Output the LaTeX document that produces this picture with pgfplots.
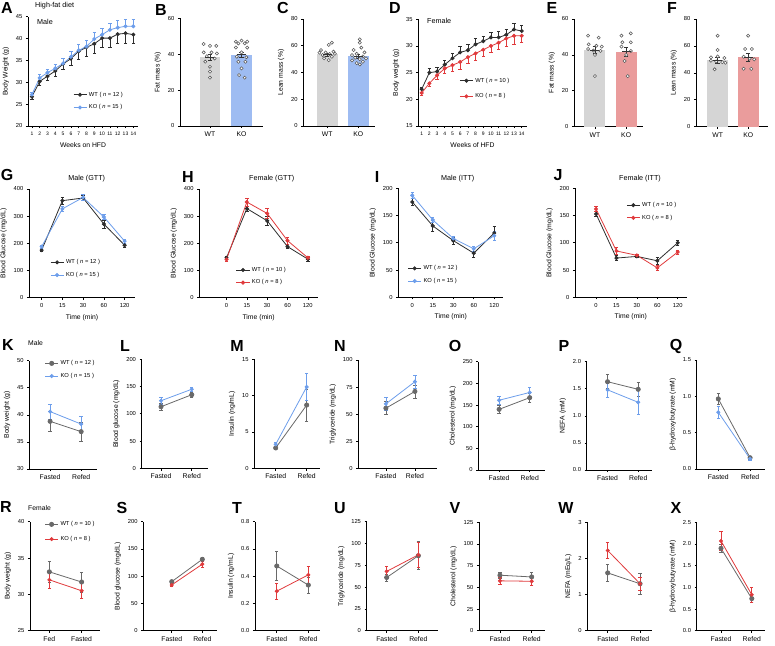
\documentclass[border=0pt]{standalone}
\usepackage{pgfplots}
\pgfplotsset{compat=1.18}
\usepackage{fontspec}
\setmainfont{Liberation Sans}
\definecolor{wtk}{RGB}{45,45,45}
\definecolor{wtg}{RGB}{105,105,105}
\definecolor{kob}{RGB}{109,158,235}
\definecolor{kor}{RGB}{224,58,60}
\definecolor{barg}{RGB}{213,213,213}
\definecolor{barb}{RGB}{158,188,242}
\definecolor{barr}{RGB}{234,156,156}
\newcommand{\fs}[1]{\fontsize{#1}{#1}\selectfont}
\newcommand{\plab}[3]{\node[font=\bfseries\fs{16}, inner sep=0pt] at (#1,{645-#2}) {#3};}
\newcommand{\ttl}[4]{\node[font=\fs{#4}, inner sep=0pt, anchor=west] at (#1,{645-#2}) {#3};}
\newcommand{\ttc}[4]{\node[font=\fs{#4}, inner sep=0pt] at (#1,{645-#2}) {#3};}
\pgfplotsset{
  base/.style={
    scale only axis, clip=false,
    axis x line*=bottom, axis y line*=left,
    axis line style={line width=0.75pt,-},
    tick align=outside,
    major tick length=2.2pt,
    every tick/.style={black, line width=0.6pt},
    /pgf/number format/assume math mode=true,
    tick label style={font=\fs{5.8}},
    label style={font=\fs{6.8}},
    legend style={draw=none, fill=none, font=\fs{5.8}, inner sep=0pt, outer sep=0pt, row sep=3pt},
    legend cell align=left,
    legend image code/.code={\draw[mark repeat=2,mark phase=2,#1] plot coordinates {(0pt,0pt) (6.5pt,0pt) (13pt,0pt)};},
    error bars/error bar style={line width=0.6pt, solid},
    error bars/error mark options={rotate=90, mark size=1.7pt, line width=0.6pt, solid},
  },
  barax/.style={base, xtick={0,1}, xticklabels={WT,KO}, xticklabel style={font=\fs{6.8}}},
  fr/.style={base, xtick={0,1}, xticklabels={Fasted,Refed}, xticklabel style={font=\fs{6.8}}},
  tm/.style={base, xtick={0,1,2,3,4}, xticklabels={0,15,30,60,120}, xlabel={Time (min)}, ylabel={Blood Glucose (mg/dL)}},
  wt1/.style={color=wtk, mark=*, mark size=1.6pt, line width=0.8pt, error bars/y dir=both, error bars/y explicit},
  ko1b/.style={color=kob, mark=*, mark size=1.6pt, line width=0.8pt, error bars/y dir=both, error bars/y explicit},
  ko1r/.style={color=kor, mark=*, mark size=1.6pt, line width=0.8pt, error bars/y dir=both, error bars/y explicit},
  wt3/.style={color=wtg, mark=*, mark size=2.1pt, line width=0.8pt, error bars/y dir=both, error bars/y explicit},
  ko3b/.style={color=kob, mark=*, mark size=1.6pt, line width=0.8pt, error bars/y dir=both, error bars/y explicit},
  ko3r/.style={color=kor, mark=*, mark size=1.6pt, line width=0.8pt, error bars/y dir=both, error bars/y explicit},
  pts/.style={only marks, mark=*, mark size=1.6pt, mark options={fill=white, draw=black!65, line width=0.55pt}},
  meanb/.style={color=black!80, only marks, mark=-, mark size=4.5pt, line width=0.7pt, error bars/y dir=both, error bars/y explicit, error bars/error mark options={rotate=90, mark size=2.2pt, line width=0.7pt}},
}
\begin{document}
\begin{tikzpicture}[x=1pt,y=1pt]
\useasboundingbox (0,0) rectangle (775,645);
% ---------------- Row 1 ----------------
\begin{axis}[base, at={(28pt,519pt)}, anchor=south west, width=110pt, height=109.3pt,
  xmin=0.5, xmax=14.6, ymin=20, ymax=45, ytick={20,25,30,35,40,45}, xtick={1,...,14},
  xticklabel style={font=\fs{5}}, xlabel={Weeks on HFD}, ylabel={Body Weight (g)},
  legend style={at={(0.41,0.33)}, anchor=north west}]
\addplot[wt1, error bars/y dir=minus] coordinates {(1,26.7)+-(0,0.6) (2,30.2)+-(0,0.8) (3,31.4)+-(0,1.0) (4,32.6)+-(0,1.2) (5,34.2)+-(0,1.3) (6,35.4)+-(0,1.6) (7,37.1)+-(0,1.8) (8,38.0)+-(0,2.0) (9,38.8)+-(0,2.2) (10,40.1)+-(0,2.0) (11,40.1)+-(0,2.1) (12,41.0)+-(0,2.0) (13,41.2)+-(0,2.2) (14,40.9)+-(0,2.0)};
\addlegendentry{WT ( \textit{n} = 12 )}
\addplot[ko1b, error bars/y dir=plus] coordinates {(1,27.2)+-(0,0.5) (2,31.0)+-(0,0.8) (3,32.2)+-(0,0.8) (4,33.2)+-(0,1.0) (5,34.3)+-(0,1.1) (6,35.8)+-(0,1.2) (7,37.3)+-(0,1.3) (8,38.2)+-(0,1.5) (9,39.9)+-(0,1.5) (10,40.9)+-(0,1.5) (11,42.0)+-(0,1.5) (12,42.5)+-(0,1.6) (13,42.8)+-(0,1.6) (14,42.8)+-(0,1.5)};
\addlegendentry{KO ( \textit{n} = 15 )}
\end{axis}
\begin{axis}[barax, at={(180pt,519pt)}, anchor=south west, width=83pt, height=107.7pt,
  xmin=-0.95, xmax=1.68, ymin=0, ymax=60, ytick={0,20,40,60}, ylabel={Fat mass (\%)}]
\addplot[ybar, bar shift=0pt, bar width=0.66, fill=barg, draw=none] coordinates {(0,38.3)};
\addplot[ybar, bar shift=0pt, bar width=0.66, fill=barb, draw=none] coordinates {(1,39.7)};
\addplot[pts] coordinates {(-0.2,45.7) (0,44.6) (0.2,44.6) (-0.2,41.0) (0.05,41.0) (0.22,40.4) (-0.1,38.9) (0.15,37.6) (-0.15,35.8) (0,33.0) (0,30.3) (0,26.9)};
\addplot[pts] coordinates {(0.82,47) (1,47.6) (1.18,47) (0.9,46) (1.1,46) (0.82,43.7) (1.18,43.7) (1,41) (0.85,38.6) (1.15,38.3) (0.9,35.8) (1.12,35.8) (1,32.1) (0.92,28.4) (1.1,26.9)};
\addplot[meanb] coordinates {(0,38.3)+-(0,1.6) (1,39.7)+-(0,1.6)};
\end{axis}
\begin{axis}[barax, at={(303.3pt,519pt)}, anchor=south west, width=71.7pt, height=107pt,
  xmin=-0.77, xmax=1.54, ymin=0, ymax=80, ytick={0,20,40,60,80}, ylabel={Lean mass (\%)}]
\addplot[ybar, bar shift=0pt, bar width=0.67, fill=barg, draw=none] coordinates {(0,53.5)};
\addplot[ybar, bar shift=0pt, bar width=0.67, fill=barb, draw=none] coordinates {(1,52)};
\addplot[pts] coordinates {(0.15,62.3) (0.05,60.6) (-0.2,56.8) (0.2,55.6) (-0.05,55.0) (-0.25,54.8) (0.25,54.0) (0.08,53.8) (-0.15,53.1) (0.15,51.8) (-0.1,50.6) (0.05,49.3)};
\addplot[pts] coordinates {(1.05,64.8) (1.05,62.3) (1.1,58.6) (0.85,56.8) (1.2,55) (0.95,54) (0.8,53) (1.15,52) (0.9,51) (1.25,50.5) (1.05,50) (0.8,49) (1.15,48) (0.95,47) (1.05,46)};
\addplot[meanb] coordinates {(0,53.5)+-(0,1.1) (1,52)+-(0,1.3)};
\end{axis}
\begin{axis}[base, at={(418.3pt,519pt)}, anchor=south west, width=108.4pt, height=106.7pt,
  xmin=0.56, xmax=14.65, ymin=15, ymax=35, ytick={15,20,25,30,35}, xtick={1,...,14},
  xticklabel style={font=\fs{5}}, xlabel={Weeks of HFD}, ylabel={Body weight (g)},
  legend style={at={(0.38,0.47)}, anchor=north west, row sep=6pt}]
\addplot[wt1, error bars/y dir=plus] coordinates {(1,21.9)+-(0,0.4) (2,25.0)+-(0,0.8) (3,25.2)+-(0,0.8) (4,26.5)+-(0,0.9) (5,27.7)+-(0,1.0) (6,28.8)+-(0,1.1) (7,29.2)+-(0,1.2) (8,30.3)+-(0,1.1) (9,30.9)+-(0,1.0) (10,31.6)+-(0,1.0) (11,31.6)+-(0,1.2) (12,32.1)+-(0,1.1) (13,33.1)+-(0,1.2) (14,32.8)+-(0,1.1)};
\addlegendentry{WT ( \textit{n} = 10 )}
\addplot[ko1r, error bars/y dir=minus] coordinates {(1,21.2)+-(0,0.4) (2,23.0)+-(0,0.6) (3,24.5)+-(0,0.7) (4,25.8)+-(0,1.0) (5,26.4)+-(0,1.2) (6,27.0)+-(0,1.3) (7,27.9)+-(0,1.2) (8,28.6)+-(0,1.2) (9,29.3)+-(0,1.2) (10,30.0)+-(0,1.2) (11,30.6)+-(0,1.3) (12,31.4)+-(0,1.4) (13,31.9)+-(0,1.5) (14,31.9)+-(0,1.3)};
\addlegendentry{KO ( \textit{n} = 8 )}
\end{axis}
\begin{axis}[barax, at={(574pt,518.3pt)}, anchor=south west, width=69pt, height=107.7pt,
  xmin=-0.67, xmax=1.54, ymin=0, ymax=60, ytick={0,20,40,60}, ylabel={Fat mass (\%)}]
\addplot[ybar, bar shift=0pt, bar width=0.67, fill=barg, draw=none] coordinates {(0,42.6)};
\addplot[ybar, bar shift=0pt, bar width=0.67, fill=barr, draw=none] coordinates {(1,41.8)};
\addplot[pts] coordinates {(-0.22,50.7) (0.12,49.6) (-0.2,45.9) (0.05,45.1) (0.22,44.6) (-0.22,43.3) (-0.05,42.4) (0.18,42.2) (0,40.0) (0,28.2)};
\addplot[pts] coordinates {(0.85,50.7) (1.15,52) (0.88,47) (1.15,47) (0.85,44.6) (1.15,42.2) (1,40) (0.95,36.6) (1.05,28.2)};
\addplot[meanb] coordinates {(0,42.6)+-(0,2) (1,41.8)+-(0,2.5)};
\end{axis}
\begin{axis}[barax, at={(696pt,518.3pt)}, anchor=south west, width=72pt, height=107.7pt,
  xmin=-0.71, xmax=1.65, ymin=0, ymax=80, ytick={0,20,40,60,80}, ylabel={Lean mass (\%)}]
\addplot[ybar, bar shift=0pt, bar width=0.69, fill=barg, draw=none] coordinates {(0,49.5)};
\addplot[ybar, bar shift=0pt, bar width=0.69, fill=barr, draw=none] coordinates {(1,51.5)};
\addplot[pts] coordinates {(0,67.6) (0,57) (-0.22,51.5) (0,52.2) (0.22,51) (-0.22,49) (-0.05,48.5) (0.15,48) (0.25,47.5) (-0.1,42.6)};
\addplot[pts] coordinates {(1,67.6) (0.9,57.7) (1.12,57.7) (0.85,52) (1.05,50.5) (1.2,50) (0.85,43) (1.1,43)};
\addplot[meanb] coordinates {(0,49.5)+-(0,2.3) (1,51.5)+-(0,2.8)};
\end{axis}
% ---------------- Row 2 ----------------
\begin{axis}[tm, at={(29pt,347.3pt)}, anchor=south west, width=106pt, height=108.7pt,
  xmin=-0.61, xmax=4.5, ymin=0, ymax=400, ytick={0,100,200,300,400},
  legend style={at={(0.2,0.37)}, anchor=north west}]
\addplot[wt1] coordinates {(0,175)+-(0,6) (1,357)+-(0,13) (2,367)+-(0,10) (3,271)+-(0,14) (4,193)+-(0,9)};
\addlegendentry{WT ( \textit{n} = 12 )}
\addplot[ko1b] coordinates {(0,188)+-(0,6) (1,327)+-(0,10) (2,369)+-(0,10) (3,297)+-(0,10) (4,208)+-(0,8)};
\addlegendentry{KO ( \textit{n} = 15 )}
\end{axis}
\begin{axis}[tm, at={(199.3pt,347.3pt)}, anchor=south west, width=118.7pt, height=108.7pt,
  xmin=-1.34, xmax=4.5, ymin=0, ymax=400, ytick={0,100,200,300,400},
  legend style={at={(0.31,0.30)}, anchor=north west}]
\addplot[wt1] coordinates {(0,147)+-(0,6) (1,328)+-(0,10) (2,283)+-(0,16) (3,188)+-(0,8) (4,142)+-(0,7)};
\addlegendentry{WT ( \textit{n} = 10 )}
\addplot[ko1r] coordinates {(0,141)+-(0,7) (1,352)+-(0,14) (2,310)+-(0,18) (3,210)+-(0,13) (4,147)+-(0,7)};
\addlegendentry{KO ( \textit{n} = 8 )}
\end{axis}
\begin{axis}[tm, at={(398.3pt,347.7pt)}, anchor=south west, width=105pt, height=109pt,
  xmin=-0.68, xmax=4.44, ymin=0, ymax=200, ytick={0,50,100,150,200},
  legend style={at={(0.09,0.31)}, anchor=north west}]
\addplot[wt1] coordinates {(0,175)+-(0,6) (1,131)+-(0,10) (2,104)+-(0,6) (3,81)+-(0,8) (4,118)+-(0,13)};
\addlegendentry{WT ( \textit{n} = 12 )}
\addplot[ko1b] coordinates {(0,187)+-(0,5) (1,142)+-(0,5) (2,108)+-(0,4) (3,89)+-(0,4) (4,113)+-(0,8)};
\addlegendentry{KO ( \textit{n} = 15 )}
\end{axis}
\begin{axis}[tm, at={(575pt,347.7pt)}, anchor=south west, width=111.7pt, height=109pt,
  xmin=-1.03, xmax=4.44, ymin=0, ymax=200, ytick={0,50,100,150,200},
  legend style={at={(0.46,0.89)}, anchor=north west}]
\addplot[wt1] coordinates {(0,153)+-(0,5) (1,72)+-(0,5) (2,75)+-(0,2) (3,67)+-(0,6) (4,100)+-(0,5)};
\addlegendentry{WT ( \textit{n} = 10 )}
\addplot[ko1r] coordinates {(0,162)+-(0,5) (1,85)+-(0,6) (2,77)+-(0,2) (3,54)+-(0,4) (4,83)+-(0,4)};
\addlegendentry{KO ( \textit{n} = 8 )}
\end{axis}
% ---------------- Row 3 ----------------
\begin{axis}[fr, at={(29.3pt,176pt)}, anchor=south west, width=67.4pt, height=108.3pt,
  xmin=-0.67, xmax=1.5, ymin=30, ymax=50, ytick={30,35,40,45,50}, ylabel={Body weight (g)},
  legend style={at={(0.23,1.02)}, anchor=north west}]
\addplot[wt3] coordinates {(0,38.8)+-(0,1.9) (1,36.9)+-(0,1.8)};
\addlegendentry{WT ( \textit{n} = 12 )}
\addplot[ko3b] coordinates {(0,40.6)+-(0,1.4) (1,38.3)+-(0,1.4)};
\addlegendentry{KO ( \textit{n} = 15 )}
\end{axis}
\begin{axis}[fr, at={(141.7pt,176.7pt)}, anchor=south west, width=66.3pt, height=109pt,
  xmin=-0.63, xmax=1.53, ymin=0, ymax=200, ytick={0,50,100,150,200}, ylabel={Blood glucose (mg/dL)}]
\addplot[wt3] coordinates {(0,113)+-(0,7) (1,135)+-(0,4)};
\addplot[ko3b] coordinates {(0,124)+-(0,7) (1,145)+-(0,3)};
\end{axis}
\begin{axis}[fr, at={(254.3pt,176.7pt)}, anchor=south west, width=65.7pt, height=109pt,
  xmin=-0.69, xmax=1.43, ymin=0, ymax=15, ytick={0,5,10,15}, ylabel={Insulin (ng/mL)}]
\addplot[wt3] coordinates {(0,2.8)+-(0,0.25) (1,8.7)+-(0,2.2)};
\addplot[ko3b] coordinates {(0,3.3)+-(0,0.3) (1,11.2)+-(0,1.9)};
\end{axis}
\begin{axis}[fr, at={(358.3pt,176.7pt)}, anchor=south west, width=78.4pt, height=108.3pt,
  xmin=-0.95, xmax=1.75, ymin=0, ymax=100, ytick={0,25,50,75,100}, ylabel={Triglyceride (mg/dL)}]
\addplot[wt3] coordinates {(0,55.5)+-(0,6) (1,71)+-(0,6)};
\addplot[ko3b] coordinates {(0,59.5)+-(0,6) (1,80)+-(0,6)};
\end{axis}
\begin{axis}[fr, at={(478.3pt,175pt)}, anchor=south west, width=66.7pt, height=108.3pt,
  xmin=-0.68, xmax=1.5, ymin=0, ymax=250, ytick={0,50,100,150,200,250}, ylabel={Cholesterol (mg/dL)}]
\addplot[wt3] coordinates {(0,140)+-(0,10) (1,167)+-(0,10)};
\addplot[ko3b] coordinates {(0,161)+-(0,10) (1,179)+-(0,12)};
\end{axis}
\begin{axis}[fr, at={(586.7pt,175pt)}, anchor=south west, width=65pt, height=108.3pt,
  xmin=-0.68, xmax=1.44, ymin=0, ymax=2, ytick={0,0.5,1,1.5,2}, ylabel={NEFA (mM)},
  yticklabel style={/pgf/number format/.cd, fixed, fixed zerofill, precision=1}]
\addplot[wt3] coordinates {(0,1.63)+-(0,0.13) (1,1.49)+-(0,0.13)};
\addplot[ko3b] coordinates {(0,1.48)+-(0,0.13) (1,1.25)+-(0,0.23)};
\end{axis}
\begin{axis}[fr, at={(696.7pt,176pt)}, anchor=south west, width=68.3pt, height=109pt,
  xmin=-0.68, xmax=1.47, ymin=0, ymax=1.5, ytick={0,0.5,1,1.5}, ylabel={β-hydroxybutyrate (mM)},
  yticklabel style={/pgf/number format/.cd, fixed, fixed zerofill, precision=1}]
\addplot[wt3] coordinates {(0,0.965)+-(0,0.08) (1,0.155)+-(0,0.02)};
\addplot[ko3b] coordinates {(0,0.78)+-(0,0.08) (1,0.14)+-(0,0.02)};
\end{axis}
% ---------------- Row 4 ----------------
\begin{axis}[base, xtick={0,1}, xticklabels={Fed,Fasted}, xticklabel style={font=\fs{6.8}},
  at={(30pt,14.3pt)}, anchor=south west, width=70pt, height=109pt,
  xmin=-0.6, xmax=1.57, ymin=25, ymax=40, ytick={25,30,35,40}, ylabel={Body weight (g)},
  legend style={at={(0.21,1.02)}, anchor=north west, row sep=5pt}]
\addplot[wt3] coordinates {(0,33.1)+-(0,1.4) (1,31.7)+-(0,1.4)};
\addlegendentry{WT ( \textit{n} = 10 )}
\addplot[ko3r] coordinates {(0,32.0)+-(0,1.2) (1,30.5)+-(0,1.1)};
\addlegendentry{KO ( \textit{n} = 8 )}
\end{axis}
\begin{axis}[fr, at={(143.3pt,14.3pt)}, anchor=south west, width=73.4pt, height=109pt,
  xmin=-0.93, xmax=1.47, ymin=0, ymax=200, ytick={0,50,100,150,200}, ylabel={Blood glucose (mg/dL)}]
\addplot[wt3] coordinates {(0,90)+-(0,3) (1,131)+-(0,3)};
\addplot[ko3r] coordinates {(0,84)+-(0,2) (1,122)+-(0,5)};
\end{axis}
\begin{axis}[fr, at={(255pt,14.3pt)}, anchor=south west, width=65pt, height=109pt,
  xmin=-0.69, xmax=1.37, ymin=0, ymax=0.8, ytick={0,0.2,0.4,0.6,0.8}, ylabel={Insulin (ng/mL)},
  yticklabel style={/pgf/number format/.cd, fixed, fixed zerofill, precision=1}]
\addplot[wt3] coordinates {(0,0.475)+-(0,0.105) (1,0.335)+-(0,0.06)};
\addplot[ko3r] coordinates {(0,0.29)+-(0,0.06) (1,0.41)+-(0,0.065)};
\end{axis}
\begin{axis}[fr, at={(366.7pt,14.3pt)}, anchor=south west, width=71.6pt, height=109pt,
  xmin=-0.63, xmax=1.63, ymin=0, ymax=125, ytick={0,25,50,75,100,125}, ylabel={Triglyceride (mg/dL)}]
\addplot[wt3] coordinates {(0,61)+-(0,4) (1,86)+-(0,16)};
\addplot[ko3r] coordinates {(0,68)+-(0,6) (1,87)+-(0,14)};
\end{axis}
\begin{axis}[fr, at={(479pt,14.3pt)}, anchor=south west, width=66pt, height=108.4pt,
  xmin=-0.66, xmax=1.42, ymin=0, ymax=125, ytick={0,25,50,75,100,125}, ylabel={Cholesterol (mg/dL)}]
\addplot[wt3] coordinates {(0,64)+-(0,3) (1,62)+-(0,5)};
\addplot[ko3r] coordinates {(0,57.5)+-(0,4) (1,57)+-(0,5)};
\end{axis}
\begin{axis}[fr, at={(587.3pt,14.3pt)}, anchor=south west, width=64.4pt, height=108.4pt,
  xmin=-0.63, xmax=1.36, ymin=0, ymax=3, ytick={0,1,2,3}, ylabel={NEFA (mEq/L)}]
\addplot[wt3] coordinates {(0,1.6)+-(0,0.24) (1,1.3)+-(0,0.28)};
\addplot[ko3r] coordinates {(0,2.22)+-(0,0.22) (1,1.3)+-(0,0.17)};
\end{axis}
\begin{axis}[fr, at={(696.7pt,14.3pt)}, anchor=south west, width=68.3pt, height=108.4pt,
  xmin=-0.79, xmax=1.43, ymin=0, ymax=2.5, ytick={0,0.5,1,1.5,2,2.5}, ylabel={β-hydroxybutyrate (mM)},
  yticklabel style={/pgf/number format/.cd, fixed, fixed zerofill, precision=1}]
\addplot[wt3] coordinates {(0,1.9)+-(0,0.1) (1,0.74)+-(0,0.08)};
\addplot[ko3r] coordinates {(0,2.07)+-(0,0.22) (1,0.83)+-(0,0.17)};
\end{axis}
% ---------------- Letters and texts ----------------
\plab{7}{8}{A} \plab{161}{10}{B} \plab{283}{8}{C} \plab{395}{8}{D} \plab{552}{8}{E} \plab{672}{8}{F}
\plab{7}{175}{G} \plab{188}{177}{H} \plab{377}{177}{I} \plab{558}{175}{J}
\plab{8}{345}{K} \plab{125}{346}{L} \plab{237}{346}{M} \plab{340}{346}{N} \plab{455}{346}{O} \plab{564}{346}{P} \plab{676}{346}{Q}
\plab{6}{507}{R} \plab{122}{508}{S} \plab{237}{508}{T} \plab{340}{508}{U} \plab{455}{508}{V} \plab{566}{508}{W} \plab{676}{508}{X}
\ttl{35}{6}{High-fat diet}{7.2}
\ttl{37}{21.7}{Male}{7.2}
\ttl{427}{21}{Female}{7.2}
\ttc{86.7}{179}{Male (GTT)}{7.2}
\ttc{271.7}{179}{Female (GTT)}{7.2}
\ttc{457.7}{179}{Male (ITT)}{7.2}
\ttc{640}{179}{Female (ITT)}{7.2}
\ttl{28}{343}{Male}{6.8}
\ttl{28}{508}{Female}{6.8}
\end{tikzpicture}
\end{document}
